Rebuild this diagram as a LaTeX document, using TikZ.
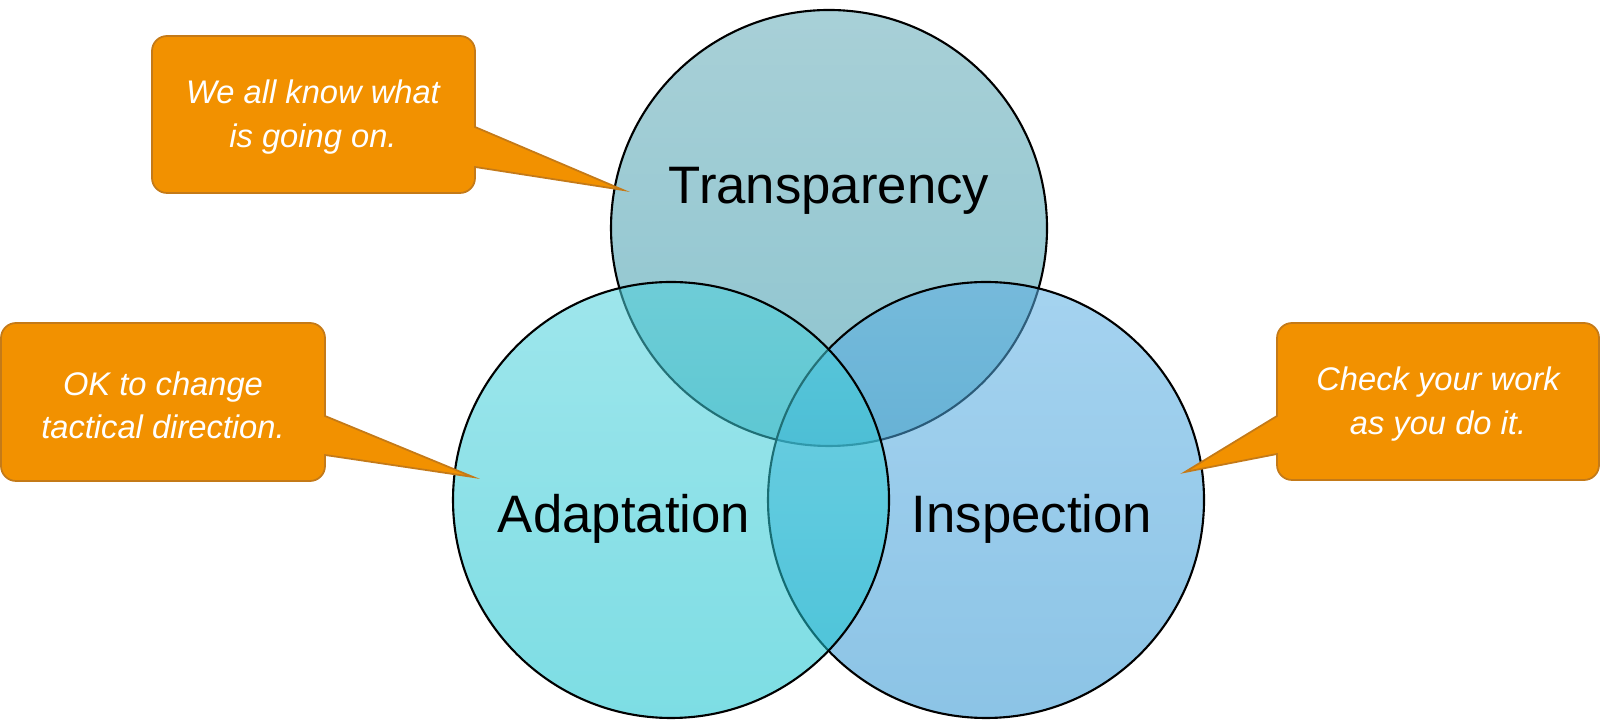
\documentclass[tikz,border=0pt]{standalone}
\usepackage{fontspec}
\setmainfont{Liberation Sans}
\usepackage{tikz}
\usetikzlibrary{calc}
\definecolor{calloutfill}{RGB}{242,145,0}
\definecolor{calloutline}{RGB}{196,122,24}
\definecolor{transTop}{RGB}{168,208,215}
\definecolor{transBot}{RGB}{140,196,207}
\definecolor{adaptTop}{RGB}{78,209,220}
\definecolor{adaptBot}{RGB}{18,193,205}
\definecolor{inspTop}{RGB}{91,175,227}
\definecolor{inspBot}{RGB}{45,147,209}

\begin{document}
\begin{tikzpicture}[scale=1.0, every node/.style={font=\small},
  venn/.style={draw=black, line width=0.6pt},
  callout/.style={fill=calloutfill, draw=calloutline, line width=0.5pt},
  calltext/.style={text=white, font=\fontsize{9.3}{12.3}\selectfont\itshape, align=center},
  vennlabel/.style={anchor=base, font=\fontsize{15}{18}\selectfont}]
\useasboundingbox (0,0) rectangle (16,7.28);

% the three circles
\coordinate (T) at (8.29,5.00);
\coordinate (A) at (6.71,2.28);
\coordinate (I) at (9.86,2.28);
\shade[venn, top color=transTop, bottom color=transBot] (T) circle (2.18);
\shade[venn, top color=inspTop, bottom color=inspBot, fill opacity=0.55] (I) circle (2.18);
\shade[venn, top color=adaptTop, bottom color=adaptBot, fill opacity=0.55] (A) circle (2.18);

\node[vennlabel] (trans) at (8.29,5.24) {Transparency};
\node[vennlabel] (adapt) at (6.24,1.95) {Adaptation};
\node[vennlabel] (insp) at (10.32,1.95) {Inspection};

% callouts
\draw[callout, rounded corners=0.15cm] (1.52,6.92) -- (4.75,6.92)
  [sharp corners] -- (4.75,6.01) -- (6.23,5.38) -- (4.75,5.61)
  [rounded corners=0.15cm] -- (4.75,5.35) -- (1.52,5.35) -- cycle;
\draw[callout, rounded corners=0.15cm] (0.01,4.05) -- (3.25,4.05)
  [sharp corners] -- (3.25,3.12) -- (4.73,2.51) -- (3.25,2.73)
  [rounded corners=0.15cm] -- (3.25,2.47) -- (0.01,2.47) -- cycle;
\draw[callout, rounded corners=0.15cm] (15.99,4.05) -- (12.77,4.05)
  [sharp corners] -- (12.77,3.12) -- (11.85,2.56) -- (12.77,2.74)
  [rounded corners=0.15cm] -- (12.77,2.48) -- (15.99,2.48) -- cycle;

\node[calltext] (know) at (3.13,6.11) {We all know what\\is going on.};
\node[calltext] (change) at (1.63,3.23) {OK to change\\tactical direction.};
\node[calltext] (check) at (14.38,3.24) {Check your work\\as you do it.};
\end{tikzpicture}
\end{document}
